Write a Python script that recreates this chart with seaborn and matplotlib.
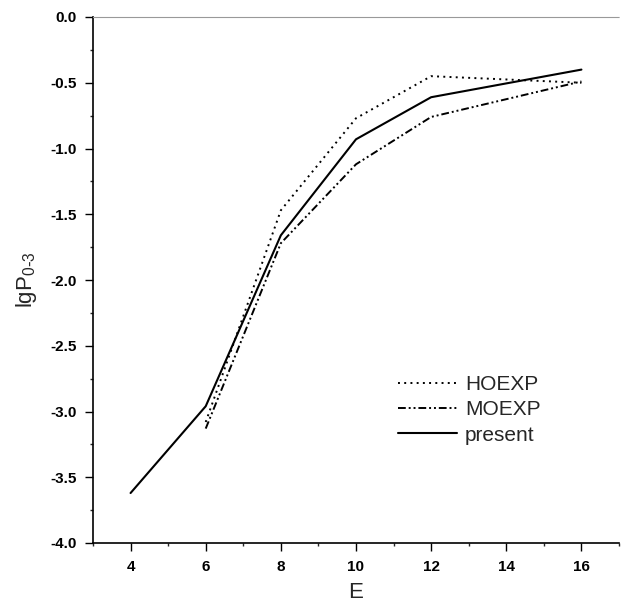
import matplotlib
matplotlib.use("Agg")
import matplotlib.pyplot as plt
import seaborn as sns
import pandas as pd
from matplotlib.ticker import MultipleLocator

sns.set_theme(style="ticks")
plt.rcParams['font.family'] = ['Liberation Sans', 'DejaVu Sans']

# Data
e_present = [4, 6, 8, 10, 12, 16]
present = [-3.62, -2.96, -1.66, -0.93, -0.61, -0.40]
e_exp = [6, 8, 10, 12, 16]
hoexp = [-3.08, -1.47, -0.77, -0.45, -0.50]
moexp = [-3.13, -1.72, -1.12, -0.76, -0.49]

fig = plt.figure(figsize=(6.22, 6.11), dpi=100)
ax = fig.add_axes([93/622, 68/611, 526/622, 526/611])

sns.lineplot(x=e_exp, y=hoexp, ax=ax, color='black', lw=1.4, linestyle=(0, (1, 2.2)), label='HOEXP')
sns.lineplot(x=e_exp, y=moexp, ax=ax, color='black', lw=1.4, linestyle=(0, (4, 1.5, 1, 1.5, 1, 1.5)), label='MOEXP')
sns.lineplot(x=e_present, y=present, ax=ax, color='black', lw=1.5, linestyle='-', label='present')

ax.set_xlim(3, 17)
ax.set_ylim(-4.0, 0.0)
ax.xaxis.set_major_locator(MultipleLocator(2))
ax.xaxis.set_minor_locator(MultipleLocator(1))
ax.yaxis.set_major_locator(MultipleLocator(0.5))
ax.yaxis.set_minor_locator(MultipleLocator(0.25))
ax.yaxis.set_major_formatter(matplotlib.ticker.FormatStrFormatter('%.1f'))
ax.tick_params(which='major', direction='out', length=6, width=1, labelsize=11, colors='black')
ax.tick_params(axis='x', which='major', pad=6)
ax.tick_params(axis='y', which='major', pad=6)
ax.tick_params(which='minor', direction='out', length=2.5, width=1)
for lbl in ax.get_xticklabels() + ax.get_yticklabels():
    lbl.set_fontweight('bold')

for s in ['left', 'bottom']:
    ax.spines[s].set_color('black')
    ax.spines[s].set_linewidth(1.2)
ax.spines['top'].set_color('#999999')
ax.spines['top'].set_linewidth(0.8)
ax.spines['top'].set_linestyle((0, (1, 1)))
ax.spines['right'].set_visible(False)

ax.set_xlabel('E', fontsize=16, labelpad=6)
ax.set_ylabel(r'lgP$_{\mathregular{0\text{-}3}}$', fontsize=16, labelpad=8)

leg = ax.legend(loc='upper left', bbox_to_anchor=(0.545, 0.355), frameon=False,
                fontsize=15, handlelength=2.8, handletextpad=0.4, labelspacing=0.3)

fig.savefig('out.png', dpi=100)
